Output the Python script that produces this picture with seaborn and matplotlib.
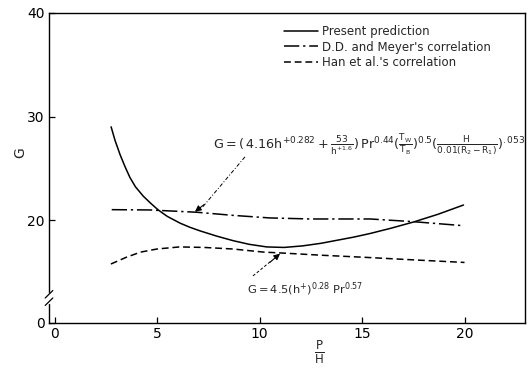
import numpy as np
import pandas as pd
import matplotlib
matplotlib.use("Agg")
import matplotlib.pyplot as plt
import seaborn as sns

# ---- data ----
present_x = [2.76, 2.95, 3.2, 3.45, 3.68, 3.95, 4.33, 4.7, 5.06, 5.5, 6.12, 6.6, 7.1, 7.9,
             8.72, 9.5, 10.35, 11.2, 12.1, 13.0, 13.8, 14.6, 15.4, 16.4, 17.5, 18.7, 19.95]
present_g = [29.0, 27.7, 26.3, 25.1, 24.1, 23.2, 22.3, 21.6, 20.97, 20.35, 19.7, 19.3, 18.95, 18.45,
             18.0, 17.65, 17.4, 17.35, 17.5, 17.75, 18.05, 18.35, 18.7, 19.2, 19.8, 20.55, 21.45]

dd_x = [2.79, 4.66, 6.94, 8.7, 10.5, 12.5, 15.4, 17.5, 19.95]
dd_g = [21.0, 20.97, 20.75, 20.45, 20.2, 20.1, 20.1, 19.84, 19.45]

han_x = [2.75, 3.5, 4.2, 5.0, 6.1, 7.3, 8.7, 10.2, 11.2, 13.0, 15.1, 17.5, 20.0]
han_g = [15.75, 16.4, 16.9, 17.2, 17.4, 17.35, 17.2, 16.9, 16.8, 16.6, 16.4, 16.15, 15.9]

labels = ["Present prediction", "D.D. and Meyer's correlation", "Han et al.'s correlation"]

x_ticks = [0, 5, 10, 15, 20]
y_ticks = [10.05, 20, 30, 40]
y_tick_labels = ["0", "20", "30", "40"]

sns.set_theme(style="ticks")
plt.rcParams["font.family"] = ["DejaVu Sans"]
plt.rcParams["mathtext.fontset"] = "dejavusans"
plt.rcParams["mathtext.default"] = "regular"

fig = plt.figure(figsize=(5.28, 3.70), dpi=100)
ax = fig.add_axes([49 / 528, 1 - 323 / 370, (525 - 49) / 528, (323 - 13) / 370])

df_p = pd.DataFrame({"x": present_x, "G": present_g})
df_d = pd.DataFrame({"x": dd_x, "G": dd_g})
df_h = pd.DataFrame({"x": han_x, "G": han_g})

sns.lineplot(data=df_p, x="x", y="G", ax=ax, color="black", lw=1.1, label=labels[0])
sns.lineplot(data=df_d, x="x", y="G", ax=ax, color="black", lw=1.1,
             linestyle=(0, (10, 2.5, 1.5, 2.5)), label=labels[1])
sns.lineplot(data=df_h, x="x", y="G", ax=ax, color="black", lw=1.1,
             linestyle=(0, (4.5, 2.5)), label=labels[2])

ax.set_xlim(-0.27, 22.95)
ax.set_ylim(10.05, 40)
ax.set_xticks(x_ticks)
ax.set_xticklabels([str(t) for t in x_ticks], fontsize=10)
ax.set_yticks(y_ticks)
ax.set_yticklabels(y_tick_labels, fontsize=10)
ax.tick_params(direction="in", length=4, width=0.9, colors="black", pad=3)
for s in ax.spines.values():
    s.set_color("black")
    s.set_linewidth(1.0)

ax.set_xlabel(r"$\frac{P}{H}$", fontsize=12)
ax.xaxis.set_label_coords((319 - 49) / 476, -0.05)
ax.set_ylabel("G", fontsize=10)
ax.yaxis.set_label_coords(-0.045, (323 - 153) / 310)

leg = ax.legend(loc="upper left", bbox_to_anchor=(284 / 528, 1 - 25 / 370),
                bbox_transform=fig.transFigure, frameon=False, fontsize=8.5,
                handlelength=2.9, handletextpad=0.35, labelspacing=0.22,
                borderpad=0, borderaxespad=0)

# axis break mark on the y axis
yb = (323 - 298) / 310
ax.plot([0, 0], [yb - 0.012, yb + 0.012], transform=ax.transAxes, color="white",
        lw=2.5, clip_on=False, zorder=5)
for dy in (-0.012, 0.012):
    ax.plot([-0.008, 0.008], [yb + dy - 0.012, yb + dy + 0.012], transform=ax.transAxes,
            color="black", lw=0.9, clip_on=False, zorder=6)

# annotations
eq1 = (r"$G=(\,4.16h^{+0.282}+\frac{53}{h^{+1.6}})\,Pr^{0.44}"
       r"(\frac{T_W}{T_B})^{0.5}(\frac{H}{0.01(R_2-R_1)})^{.053}$")
fig.text(213 / 528, 1 - 148 / 370, eq1, fontsize=9.2, ha="left", va="baseline")
eq2 = r"$G=4.5(h^{+})^{0.28}\ Pr^{0.57}$"
fig.text(247 / 528, 1 - 293 / 370, eq2, fontsize=8.2, ha="left", va="baseline")

ax.plot([9.29, 7.2], [26.1, 21.2], color="black", lw=0.7, linestyle=(0, (4, 2, 1, 2)))
ax.annotate("", xy=(6.85, 20.8), xytext=(7.3, 21.5),
            arrowprops=dict(arrowstyle="-|>", color="black", lw=0.8,
                            mutation_scale=9, shrinkA=0, shrinkB=0))
ax.plot([9.68, 10.6], [14.6, 16.1], color="black", lw=0.7, linestyle=(0, (3, 2)))
ax.annotate("", xy=(11.0, 16.75), xytext=(10.5, 15.9),
            arrowprops=dict(arrowstyle="-|>", color="black", lw=0.8,
                            mutation_scale=9, shrinkA=0, shrinkB=0))

fig.savefig("out.png", dpi=100)
